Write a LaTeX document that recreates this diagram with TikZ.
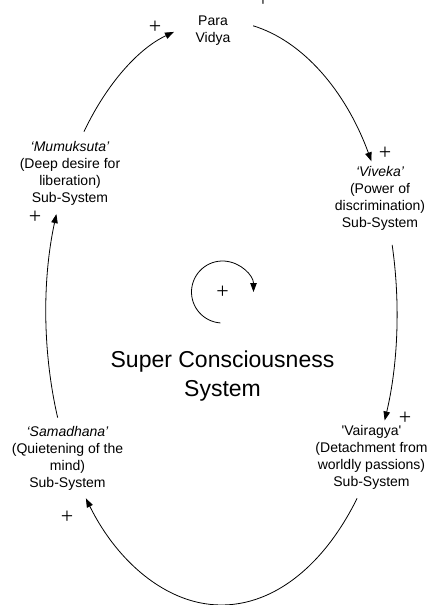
\documentclass[tikz,border=0pt]{standalone}
\usepackage{fontspec}
\setmainfont{Liberation Sans}
\newfontfamily\plusfont{Liberation Serif}
\usetikzlibrary{arrows.meta,calc}
\begin{document}
\begin{tikzpicture}[x=1pt,y=-1pt,
  lbl/.style={align=center,inner sep=0pt,anchor=north,font=\fontsize{14}{17}\selectfont},
  ttl/.style={align=center,inner sep=0pt,anchor=north,font=\fontsize{23}{29}\selectfont},
  pls/.style={inner sep=0pt,font=\plusfont\fontsize{22}{22}\selectfont},
  link/.style={line width=0.8pt,-{Triangle[length=9pt,width=6.5pt]}}]
\useasboundingbox (0,0) rectangle (431,605);
% labels
\node[lbl] (para) at (213,15.5) {Para\\Vidya};
\node[lbl] (mum) at (70,141) {\itshape ‘Mumuksuta’\\(Deep desire for\\liberation)\\Sub-System};
\node[lbl] (viv) at (380,166.5) {\itshape ‘Viveka’\\(Power of\\discrimination)\\Sub-System};
\node[lbl] (vai) at (371.5,425.5) {\textquotesingle Vairagya\textquotesingle\\(Detachment from\\worldly passions)\\Sub-System};
\node[lbl] (sam) at (67.5,426.5) {\itshape ‘Samadhana’\\(Quietening of the\\mind)\\Sub-System};
\node[ttl] (title) at (222.5,351) {Super Consciousness\\System};
% plus signs
\node[pls] (p1) at (155,27) {+};
\node[pls] (p2) at (263,0) {+};
\node[pls] (p3) at (385,153) {+};
\node[pls] (p4) at (35,217) {+};
\node[pls] (p5) at (405,418) {+};
\node[pls] (p6) at (67,517) {+};
\node[pls] (p7) at (222.5,292) {+};
% big cycle
\coordinate (C) at (221.5,313);
\coordinate (a1) at ($(C)+(218.4:175.5 and 292)$);
\coordinate (a2) at ($(C)+(280.4:175.5 and 292)$);
\coordinate (a3) at ($(C)+(346.5:175.5 and 292)$);
\coordinate (a4) at ($(C)+(39.4:175.5 and 292)$);
\coordinate (a5) at ($(C)+(159:175.5 and 292)$);
\draw[link] (a1) arc[start angle=218.4,end angle=254.3,x radius=175.5,y radius=292];
\draw[link] (a2) arc[start angle=280.4,end angle=328.7,x radius=175.5,y radius=292];
\draw[link] (a3) arc[start angle=346.5,end angle=381.6,x radius=175.5,y radius=292];
\draw[link] (a4) arc[start angle=39.4,end angle=140.6,x radius=175.5,y radius=292];
\draw[link] (a5) arc[start angle=159,end angle=199.8,x radius=175.5,y radius=292];
% small loop
\coordinate (l0) at ($(p7)+(94:31)$);
\draw[link] (l0) arc[start angle=94,end angle=360,radius=31];
\end{tikzpicture}
\end{document}
